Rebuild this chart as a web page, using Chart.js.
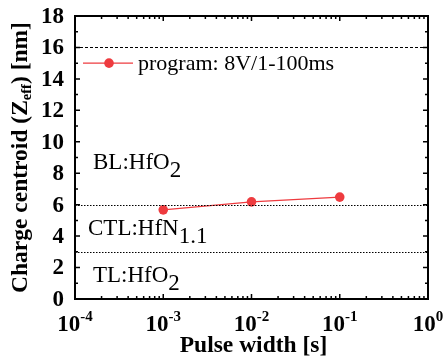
<!DOCTYPE html>
<html>
<head>
<meta charset="utf-8">
<script src="https://cdn.jsdelivr.net/npm/chart.js@4/dist/chart.umd.min.js"></script>
<style>
  html, body { margin: 0; padding: 0; background: #fff; }
  #wrap { width: 446px; height: 360px; }
</style>
</head>
<body>
<div id="wrap"><canvas id="c" width="446" height="360"></canvas></div>
<script>
// Datos: centroide de carga vs ancho de pulso
const pulseWidths = [1e-3, 1e-2, 1e-1];
const centroids = [5.67, 6.18, 6.48];
const seriesLabel = 'program: 8V/1-100ms';

const xTickExps = [-4, -3, -2, -1, 0];
const yTicks = [0, 2, 4, 6, 8, 10, 12, 14, 16, 18];
const layerLines = [16, 6, 3];
const layerNames = [
    { text: 'BL:HfO', sub: '2', y: 8.25 },
    { text: 'CTL:HfN', sub: '1.1', y: 4.07 },
    { text: 'TL:HfO', sub: '2', y: 1.1 }
];

const red = '#ee3b3f';
const serif = '"Liberation Serif", "Times New Roman", serif';

// Marco, ticks internos, etiquetas y anotaciones
const framePlugin = {
    id: 'frame',
    afterDraw(chart) {
        const ctx = chart.ctx;
        const a = chart.chartArea;
        const xs = chart.scales.x, ys = chart.scales.y;
        ctx.save();

        // lineas de separacion entre capas
        ctx.strokeStyle = '#000';
        ctx.lineWidth = 1;
        layerLines.forEach((v, i) => {
            const y = Math.round(ys.getPixelForValue(v)) + 0.5;
            ctx.setLineDash(i === 0 ? [3, 2] : [1.5, 1.5]);
            ctx.beginPath();
            ctx.moveTo(a.left, y);
            ctx.lineTo(a.right, y);
            ctx.stroke();
        });
        ctx.setLineDash([]);

        // marco
        ctx.lineWidth = 2;
        ctx.strokeRect(a.left, a.top, a.right - a.left, a.bottom - a.top);

        // ticks eje y (mayores y menores, en ambos lados)
        ctx.lineWidth = 1.5;
        for (let v = 0; v <= 18; v++) {
            const y = ys.getPixelForValue(v);
            const len = v % 2 === 0 ? 5 : 3;
            ctx.beginPath();
            ctx.moveTo(a.left, y); ctx.lineTo(a.left + len, y);
            ctx.moveTo(a.right, y); ctx.lineTo(a.right - len, y);
            ctx.stroke();
        }
        // ticks eje x logaritmico
        for (let e = -4; e <= 0; e++) {
            for (let m = 1; m <= 9; m++) {
                const v = m * Math.pow(10, e);
                if (v > 1) break;
                const x = xs.getPixelForValue(v);
                const len = m === 1 ? 5 : 3;
                ctx.beginPath();
                ctx.moveTo(x, a.bottom); ctx.lineTo(x, a.bottom - len);
                ctx.moveTo(x, a.top); ctx.lineTo(x, a.top + len);
                ctx.stroke();
            }
        }

        // etiquetas eje y
        ctx.fillStyle = '#000';
        ctx.font = 'bold 23px ' + serif;
        ctx.textAlign = 'right';
        ctx.textBaseline = 'middle';
        yTicks.forEach(v => {
            ctx.fillText(String(v), a.left - 11, ys.getPixelForValue(v) + 1);
        });

        // etiquetas eje x: 10 con exponente
        ctx.textBaseline = 'alphabetic';
        ctx.textAlign = 'left';
        xTickExps.forEach(e => {
            const x = xs.getPixelForValue(Math.pow(10, e));
            const base = '10';
            const exp = String(e);
            ctx.font = 'bold 23px ' + serif;
            const bw = ctx.measureText(base).width;
            ctx.font = 'bold 15px ' + serif;
            const ew = ctx.measureText(exp).width;
            const x0 = x - (bw + ew) / 2;
            ctx.font = 'bold 23px ' + serif;
            ctx.fillText(base, x0, a.bottom + 32);
            ctx.font = 'bold 15px ' + serif;
            ctx.fillText(exp, x0 + bw, a.bottom + 22);
        });

        // titulo eje x
        ctx.font = 'bold 23.5px ' + serif;
        ctx.textAlign = 'center';
        ctx.fillText('Pulse width [s]', (a.left + a.right) / 2 + 2, 352);

        // titulo eje y (rotado, con subindice)
        ctx.save();
        ctx.translate(27, (a.top + a.bottom) / 2);
        ctx.rotate(-Math.PI / 2);
        const p1 = 'Charge centroid (Z', p2 = 'eff', p3 = ') [nm]';
        ctx.font = 'bold 23.5px ' + serif;
        const w1 = ctx.measureText(p1).width, w3 = ctx.measureText(p3).width;
        ctx.font = 'bold 14.5px ' + serif;
        const w2 = ctx.measureText(p2).width;
        let tx = -(w1 + w2 + w3) / 2;
        ctx.textAlign = 'left';
        ctx.font = 'bold 23.5px ' + serif;
        ctx.fillText(p1, tx, 0); tx += w1;
        ctx.font = 'bold 14.5px ' + serif;
        ctx.fillText(p2, tx, 4); tx += w2;
        ctx.font = 'bold 23.5px ' + serif;
        ctx.fillText(p3, tx, 0);
        ctx.restore();

        // nombres de capas
        ctx.textAlign = 'left';
        layerNames.forEach((l, i) => {
            const y = ys.getPixelForValue(l.y);
            const x = i === 1 ? a.left + 13 : a.left + 18;
            ctx.font = '23px ' + serif;
            ctx.fillText(l.text, x, y);
            const w = ctx.measureText(l.text).width;
            ctx.fillText(l.sub, x + w, y + 8);
        });

        // leyenda
        const ly = ys.getPixelForValue(15.0);
        ctx.strokeStyle = red;
        ctx.lineWidth = 1.2;
        ctx.beginPath();
        ctx.moveTo(a.left + 8, ly); ctx.lineTo(a.left + 58, ly);
        ctx.stroke();
        ctx.fillStyle = red;
        ctx.beginPath();
        ctx.arc(a.left + 34, ly, 4.8, 0, Math.PI * 2);
        ctx.fill();
        ctx.fillStyle = '#000';
        ctx.font = '22px ' + serif;
        ctx.textBaseline = 'middle';
        ctx.fillText(seriesLabel, a.left + 63, ly + 1);

        ctx.restore();
    }
};

new Chart(document.getElementById('c'), {
    type: 'line',
    data: {
        datasets: [{
            label: seriesLabel,
            data: pulseWidths.map((x, i) => ({ x: x, y: centroids[i] })),
            borderColor: red,
            backgroundColor: red,
            borderWidth: 1.2,
            pointRadius: 4.8,
            pointHoverRadius: 4.8,
            pointBorderWidth: 0,
            tension: 0
        }]
    },
    options: {
        responsive: false,
        animation: false,
        events: [],
        layout: { padding: { left: 75, right: 18, top: 16, bottom: 61 } },
        plugins: { legend: { display: false }, tooltip: { enabled: false } },
        scales: {
            x: { type: 'logarithmic', min: 1e-4, max: 1, display: false },
            y: { type: 'linear', min: 0, max: 18, display: false }
        }
    },
    plugins: [framePlugin]
});
</script>
</body>
</html>
